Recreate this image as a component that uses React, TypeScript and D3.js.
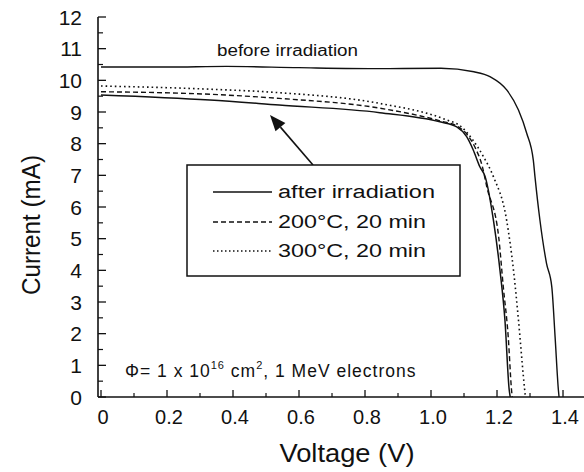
import React from "react";
import * as d3 from "d3";

// I–V curves of a solar cell before and after 1 MeV electron irradiation and annealing
const beforeVoltage = [0, 0.2, 0.38, 0.6, 0.85, 1.03, 1.13, 1.18, 1.23, 1.265, 1.29, 1.31, 1.315, 1.33, 1.35, 1.366, 1.376, 1.386, 1.388];
const beforeCurrent = [10.42, 10.42, 10.44, 10.4, 10.37, 10.38, 10.27, 10.11, 9.69, 9.06, 8.33, 7.48, 6.96, 5.59, 4.22, 3.48, 1.9, 0.22, 0];

const afterVoltage = [0, 0.33, 0.54, 0.845, 1.027, 1.078, 1.108, 1.128, 1.148, 1.164, 1.189, 1.209, 1.224, 1.237, 1.24];
const afterCurrent = [9.54, 9.38, 9.22, 8.98, 8.69, 8.53, 8.22, 7.8, 7.27, 6.96, 5.59, 4.0, 2.43, 0.22, 0];

const anneal200Voltage = [0, 0.33, 0.54, 0.845, 1.027, 1.08, 1.11, 1.135, 1.155, 1.169, 1.205, 1.219, 1.234, 1.244, 1.246];
const anneal200Current = [9.64, 9.56, 9.43, 9.12, 8.72, 8.55, 8.28, 7.85, 7.3, 6.64, 5.06, 3.48, 1.9, 0.22, 0];

const anneal300Voltage = [0, 0.33, 0.54, 0.845, 1.047, 1.09, 1.123, 1.159, 1.189, 1.229, 1.25, 1.265, 1.28, 1.286];
const anneal300Current = [9.82, 9.72, 9.61, 9.27, 8.75, 8.55, 8.17, 7.59, 6.96, 5.59, 4.0, 2.43, 0.64, 0];

const xTickValues = [0, 0.2, 0.4, 0.6, 0.8, 1.0, 1.2, 1.4];
const xTickLabels = ["0", "0.2", "0.4", "0.6", "0.8", "1.0", "1.2", "1.4"];
const yTickValues = [0, 1, 2, 3, 4, 5, 6, 7, 8, 9, 10, 11, 12];
const yTickLabels = ["0", "1", "2", "3", "4", "5", "6", "7", "8", "9", "10", "11", "12"];

const legendLabels = ["after irradiation", "200°C, 20 min", "300°C, 20 min"];

const FONT = "'Liberation Sans', Arial, Helvetica, sans-serif";

export default function App() {
  const width = 584;
  const height = 472;
  const x = d3.scaleLinear().domain([-0.0091, 1.4636]).range([98, 584]);
  const y = d3.scaleLinear().domain([0, 12]).range([397, 17]);

  const line = d3
    .line<[number, number]>()
    .x((d) => x(d[0]))
    .y((d) => y(d[1]))
    .curve(d3.curveMonotoneX);

  const zip = (v: number[], c: number[]) => v.map((vv, i) => [vv, c[i]] as [number, number]);

  const series = [
    { v: beforeVoltage, c: beforeCurrent, dash: undefined as string | undefined, w: 1.4 },
    { v: afterVoltage, c: afterCurrent, dash: undefined as string | undefined, w: 1.5 },
    { v: anneal200Voltage, c: anneal200Current, dash: "5,3", w: 1.4 },
    { v: anneal300Voltage, c: anneal300Current, dash: "1.6,3", w: 1.6 },
  ];

  const xMinor = d3.range(0.1, 1.45, 0.2);
  const yMinor = d3.range(0.5, 12, 1);

  const legendDash = [undefined, "5,3", "1.5,2.5"];
  const legendRowY = [192, 222, 251];
  const legendTextLen = [157, 148, 148];

  // arrow from the legend toward the irradiated curves
  const tail = [313, 165];
  const tip = [270, 115];
  const ang = Math.atan2(tip[1] - tail[1], tip[0] - tail[0]);
  const hl = 16;
  const hw = 6.5;
  const bx = tip[0] - hl * Math.cos(ang);
  const by = tip[1] - hl * Math.sin(ang);
  const head = [
    [tip[0], tip[1]],
    [bx + hw * Math.sin(ang), by - hw * Math.cos(ang)],
    [bx - hw * Math.sin(ang), by + hw * Math.cos(ang)],
  ];

  return (
    <svg
      width={width}
      height={height}
      style={{ position: "absolute", left: 0, top: 0, background: "#fff" }}
      fontFamily={FONT}
    >
      <rect width={width} height={height} fill="#fff" />

      {/* axes */}
      <line x1={98} x2={98} y1={y(12)} y2={y(0)} stroke="#111" strokeWidth={1.6} />
      <line x1={98} x2={584} y1={y(0)} y2={y(0)} stroke="#111" strokeWidth={1.6} />

      {yTickValues.map((t, i) => (
        <g key={"yt" + t}>
          <line x1={98} x2={106} y1={y(t)} y2={y(t)} stroke="#111" strokeWidth={1.3} />
          <text x={82} y={y(t)} dy="0.36em" textAnchor="end" fontSize={21} fill="#111">
            {yTickLabels[i]}
          </text>
        </g>
      ))}
      {yMinor.map((t) => (
        <line key={"ym" + t} x1={98} x2={103} y1={y(t)} y2={y(t)} stroke="#111" strokeWidth={1.2} />
      ))}

      {xTickValues.map((t, i) => (
        <g key={"xt" + t}>
          <line x1={x(t)} x2={x(t)} y1={y(0)} y2={y(0) - 7} stroke="#111" strokeWidth={1.3} />
          <text x={x(t) + 2} y={424} textAnchor="middle" fontSize={20} fill="#111">
            {xTickLabels[i]}
          </text>
        </g>
      ))}
      {xMinor.map((t) => (
        <line key={"xm" + t} x1={x(t)} x2={x(t)} y1={y(0)} y2={y(0) - 4} stroke="#111" strokeWidth={1.2} />
      ))}

      <text x={347} y={462} textAnchor="middle" fontSize={25} fill="#111" textLength={135} lengthAdjust="spacingAndGlyphs">
        Voltage (V)
      </text>
      <text
        transform="translate(40,225) rotate(-90)"
        textAnchor="middle"
        fontSize={26}
        fill="#111"
        textLength={140}
        lengthAdjust="spacingAndGlyphs"
      >
        Current (mA)
      </text>

      {/* curves */}
      {series.map((s, i) => (
        <path
          key={"s" + i}
          d={line(zip(s.v, s.c)) || ""}
          fill="none"
          stroke="#111"
          strokeWidth={s.w}
          strokeDasharray={s.dash}
        />
      ))}

      <text x={217} y={56} fontSize={16} fill="#111" textLength={141} lengthAdjust="spacingAndGlyphs">
        before irradiation
      </text>

      {/* arrow */}
      <line x1={tail[0]} y1={tail[1]} x2={bx} y2={by} stroke="#111" strokeWidth={1.6} />
      <polygon points={head.map((p) => p.join(",")).join(" ")} fill="#111" />

      {/* legend */}
      <rect x={187} y={165} width={273} height={111} fill="#fff" stroke="#111" strokeWidth={1.5} />
      {legendLabels.map((lab, i) => (
        <g key={"lg" + i}>
          <line
            x1={213}
            x2={272}
            y1={legendRowY[i]}
            y2={legendRowY[i]}
            stroke="#111"
            strokeWidth={1.4}
            strokeDasharray={legendDash[i]}
          />
          <text
            x={278}
            y={legendRowY[i] + 6}
            fontSize={18}
            fill="#111"
            textLength={legendTextLen[i]}
            lengthAdjust="spacingAndGlyphs"
          >
            {lab}
          </text>
        </g>
      ))}

      {/* fluence annotation */}
      <text x={125} y={377} fontSize={17.5} fill="#111" letterSpacing={1.0}>
        <tspan>Φ= 1 x 10</tspan>
        <tspan dy={-8} fontSize={11}>16</tspan>
        <tspan dy={8}> cm</tspan>
        <tspan dy={-8} fontSize={11}>2</tspan>
        <tspan dy={8}>, 1 MeV electrons</tspan>
      </text>
    </svg>
  );
}
